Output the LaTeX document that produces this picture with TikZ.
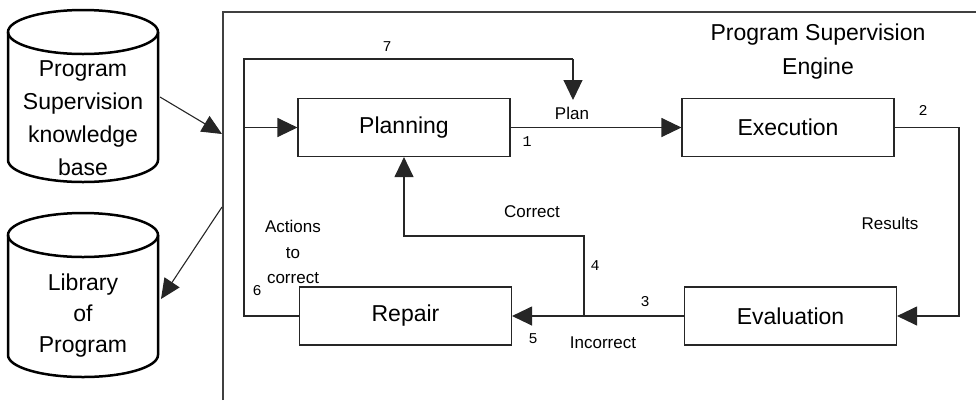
\documentclass[tikz,border=0pt]{standalone}
\usepackage{fontspec}
\setmainfont{Liberation Sans}
\newfontfamily\monofont{Liberation Mono}
\usetikzlibrary{arrows.meta}
\tikzset{
  box/.style={draw=black!85, line width=1.1pt, minimum width=212pt, minimum height=58pt, inner sep=0pt, font=\fontsize{23}{27}\selectfont},
  conn/.style={draw=black!85, line width=1.1pt},
  arr/.style={conn, -{Triangle[length=20pt,width=19pt]}},
  dbline/.style={draw=black, line width=2.5pt},
  lbl/.style={inner sep=0pt, font=\fontsize{17}{25.5}\selectfont, align=center},
  num/.style={inner sep=0pt, font=\monofont\fontsize{15}{15}\selectfont},
  big/.style={inner sep=0pt, align=center}
}
\begin{document}
\begin{tikzpicture}[x=1pt,y=-1pt]
\useasboundingbox (0,0) rectangle (976,400);
% engine frame
\coordinate (fTL) at (223,12);
\coordinate (fBL) at (223,400);
\coordinate (fTR) at (976,12);
\draw[draw=black!75, line width=1.3pt] (fBL) -- (fTL) -- (fTR);
% cylinder 1
\draw[dbline] (83,32) ellipse [x radius=75pt, y radius=22pt];
\draw[dbline] (8,32) -- (8,160) arc[start angle=180, end angle=360, x radius=75pt, y radius=22pt] -- (158,32);
\node[big, font=\fontsize{23}{33}\selectfont] (kb) at (83,118) {Program\\Supervision\\knowledge\\base};
% cylinder 2
\draw[dbline] (83,235) ellipse [x radius=75pt, y radius=22pt];
\draw[dbline] (8,235) -- (8,355) arc[start angle=180, end angle=360, x radius=75pt, y radius=22pt] -- (158,235);
\node[big, font=\fontsize{23}{31}\selectfont] (lib) at (83,316) {Library\\of\\Program};
% db arrows
\coordinate (kbout) at (160,97);
\coordinate (fin) at (222,134);
\coordinate (fout) at (222,207);
\coordinate (libin) at (161,299);
\draw[conn, -{Triangle[length=20pt,width=18pt]}] (kbout) -- (fin);
\draw[conn, -{Triangle[length=20pt,width=18pt]}] (fout) -- (libin);
% title
\node[big, font=\fontsize{23}{34}\selectfont] (title) at (818,52) {Program Supervision\\Engine};
% boxes
\node[box] (plan) at (404,127.5) {Planning};
\node[box] (exec) at (788,127.5) {Execution};
\node[box] (eval) at (790.5,316) {Evaluation};
\node[box] (rep) at (405.5,316) {Repair};
% connectors
\draw[arr] (plan.east) -- (exec.west);
\coordinate (rc) at (959,127.5);
\draw[arr] (exec.east) -- (rc) |- (eval.east);
\draw[arr] (eval.west) -- (rep.east);
\coordinate (j) at (584,316);
\coordinate (jc) at (584,236);
\draw[arr] (j) -- (jc) -| (plan.south);
\coordinate (lb) at (244,316);
\coordinate (lt) at (244,59);
\coordinate (tr) at (573,59);
\coordinate (plantip) at (573,100);
\coordinate (lm) at (244,127.5);
\draw[conn] (rep.west) -- (lb) -- (lt) -- (tr);
\draw[arr] (tr) -- (plantip);
\draw[arr] (lm) -- (plan.west);
% labels
\node[lbl] (lplan) at (572,113) {Plan};
\node[lbl] (lres) at (890,223) {Results};
\node[lbl] (lcor) at (532,212) {Correct};
\node[lbl] (linc) at (603,343) {Incorrect};
\node[lbl] (lact) at (293,252) {Actions\\to\\correct};
\node[num] (n7) at (387,47) {7};
\node[num] (n1) at (527,142) {1};
\node[num] (n2) at (923,110) {2};
\node[num] (n3) at (645,302) {3};
\node[num] (n4) at (595,266) {4};
\node[num] (n5) at (533,339) {5};
\node[num] (n6) at (257,291) {6};
\end{tikzpicture}
\end{document}
